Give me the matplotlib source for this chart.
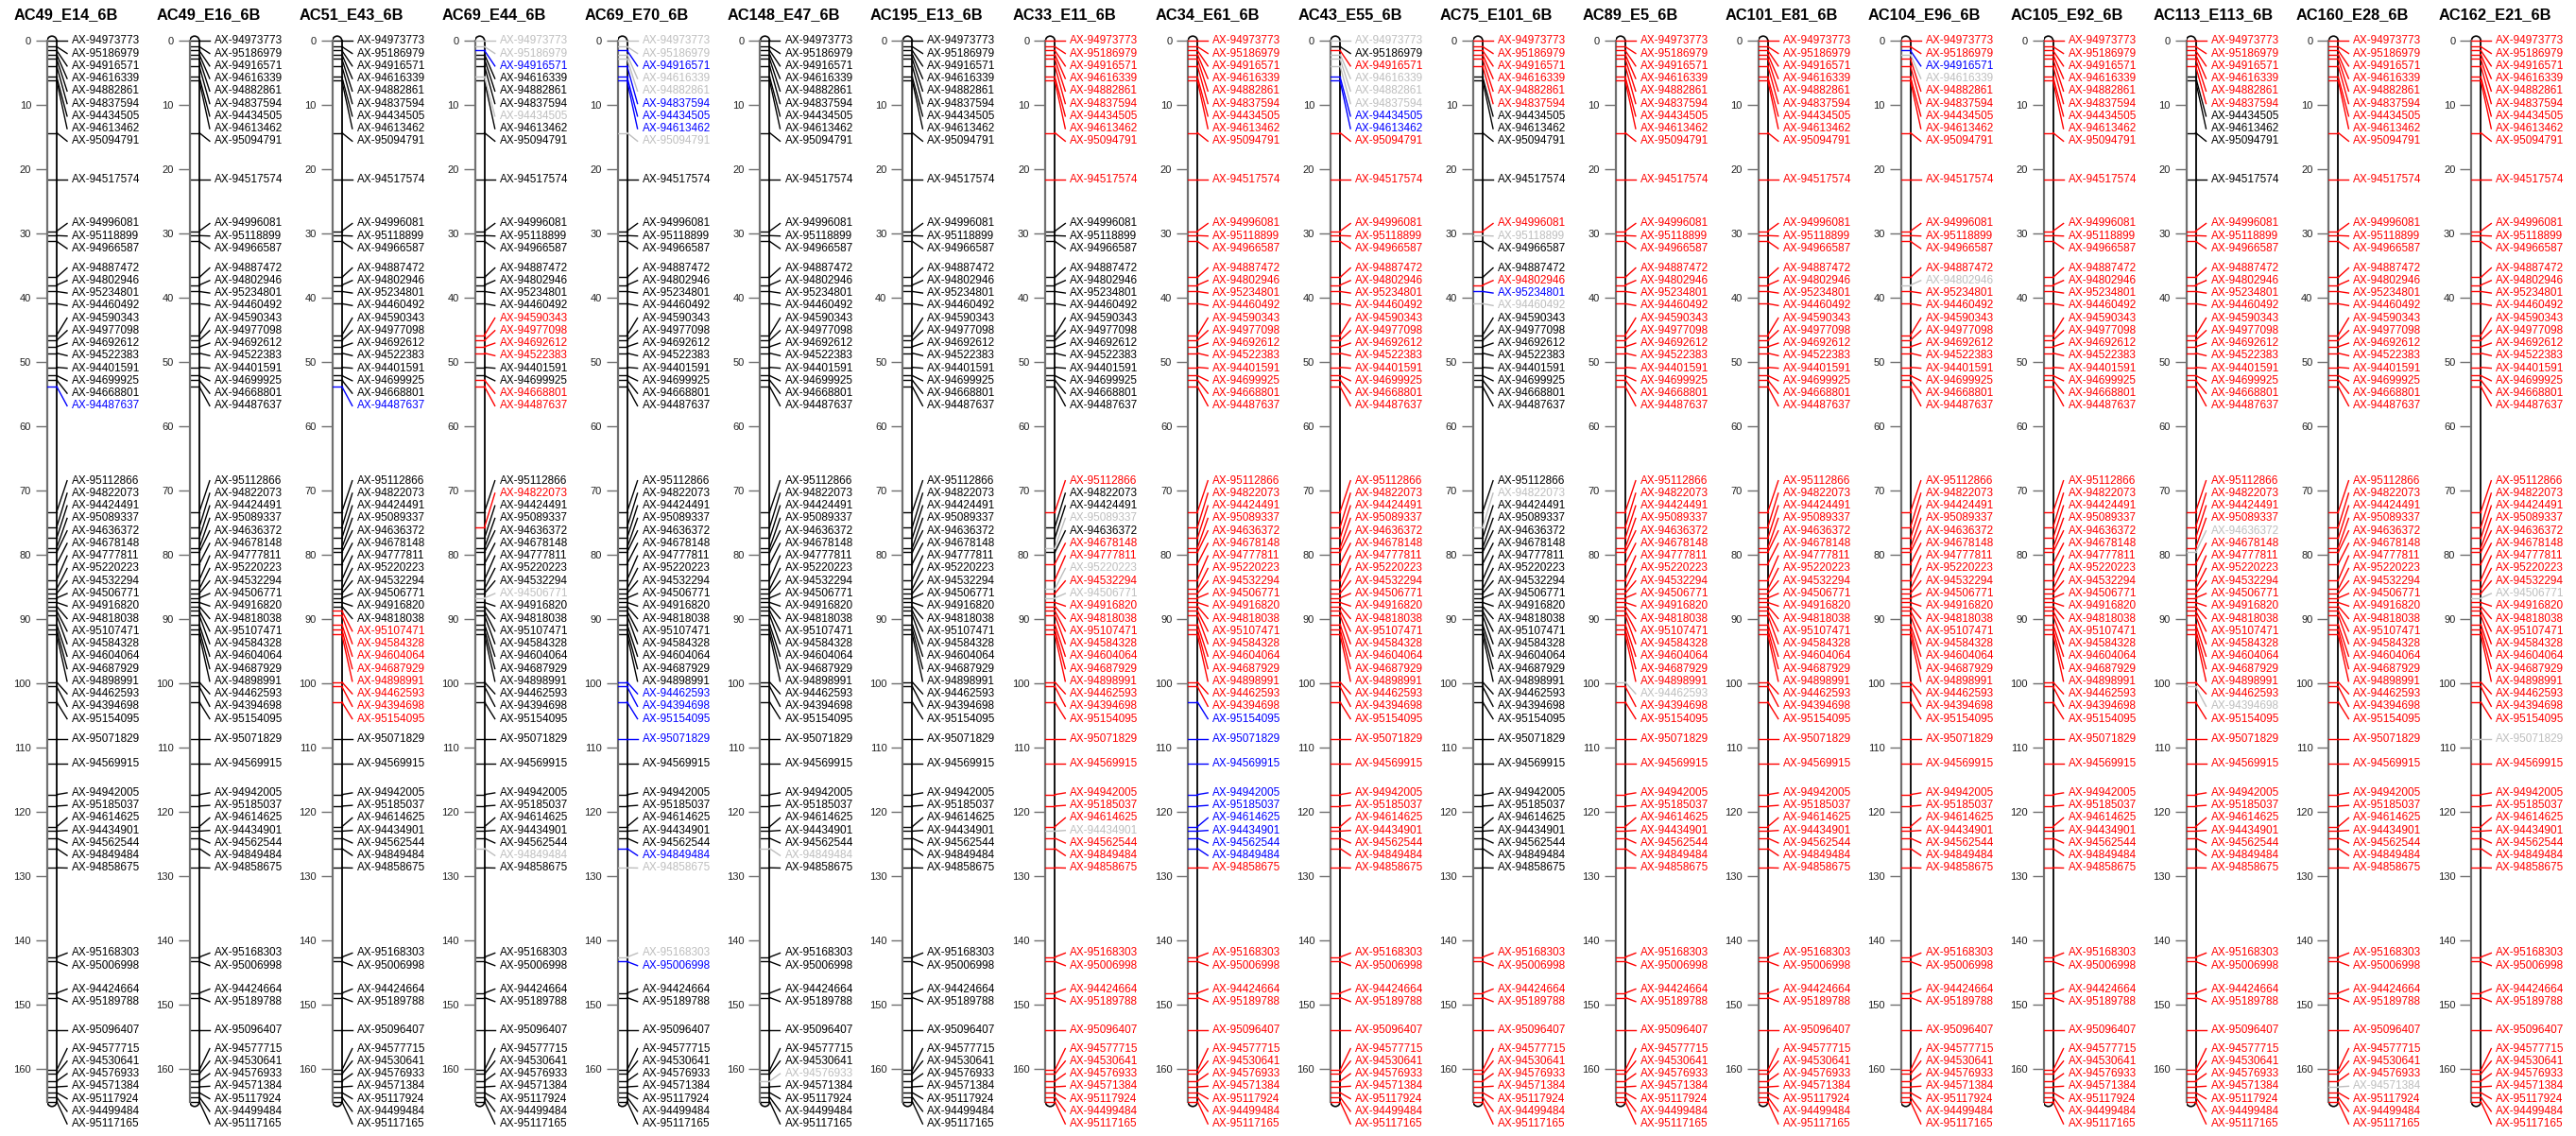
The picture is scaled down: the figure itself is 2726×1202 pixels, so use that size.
import numpy as np
import matplotlib
matplotlib.use("Agg")
import matplotlib.pyplot as plt
from matplotlib.patches import Arc

plt.rcParams['font.family'] = ['Liberation Sans', 'DejaVu Sans']

# marker names and map positions (cM)
markers = ["AX-94973773", "AX-95186979", "AX-94916571", "AX-94616339", "AX-94882861",
           "AX-94837594", "AX-94434505", "AX-94613462", "AX-95094791", "AX-94517574",
           "AX-94996081", "AX-95118899", "AX-94966587", "AX-94887472", "AX-94802946",
           "AX-95234801", "AX-94460492", "AX-94590343", "AX-94977098", "AX-94692612",
           "AX-94522383", "AX-94401591", "AX-94699925", "AX-94668801", "AX-94487637",
           "AX-95112866", "AX-94822073", "AX-94424491", "AX-95089337", "AX-94636372",
           "AX-94678148", "AX-94777811", "AX-95220223", "AX-94532294", "AX-94506771",
           "AX-94916820", "AX-94818038", "AX-95107471", "AX-94584328", "AX-94604064",
           "AX-94687929", "AX-94898991", "AX-94462593", "AX-94394698", "AX-95154095",
           "AX-95071829", "AX-94569915", "AX-94942005", "AX-95185037", "AX-94614625",
           "AX-94434901", "AX-94562544", "AX-94849484", "AX-94858675", "AX-95168303",
           "AX-95006998", "AX-94424664", "AX-95189788", "AX-95096407", "AX-94577715",
           "AX-94530641", "AX-94576933", "AX-94571384", "AX-95117924", "AX-94499484",
           "AX-95117165"]
pos = [0.0, 0.9, 1.5, 2.1, 2.8, 3.9, 5.6, 6.2, 14.3, 21.6,
       29.6, 30.3, 31.2, 36.8, 38.0, 39.0, 40.9, 45.8, 46.6, 47.6,
       48.6, 50.8, 52.1, 52.8, 53.8, 73.3, 75.7, 77.4, 78.9, 79.6,
       81.4, 83.9, 85.3, 86.0, 86.7, 87.4, 88.0, 88.7, 89.4, 90.8,
       91.6, 92.4, 99.8, 100.5, 102.9, 108.6, 112.5, 117.3, 119.1, 122.3,
       123.0, 124.1, 125.7, 128.7, 142.6, 143.3, 148.2, 148.9, 154.0, 160.2,
       160.8, 161.9, 162.8, 163.7, 164.4, 165.1]

panels = ["AC49_E14_6B", "AC49_E16_6B", "AC51_E43_6B", "AC69_E44_6B", "AC69_E70_6B",
          "AC148_E47_6B", "AC195_E13_6B", "AC33_E11_6B", "AC34_E61_6B", "AC43_E55_6B",
          "AC75_E101_6B", "AC89_E5_6B", "AC101_E81_6B", "AC104_E96_6B", "AC105_E92_6B",
          "AC113_E113_6B", "AC160_E28_6B", "AC162_E21_6B"]

# genotype class per marker: k black, r red, b blue, g grey (missing)
geno = [
    "k" * 24 + "b" + "k" * 41,
    "k" * 66,
    "k" * 24 + "b" + "k" * 12 + "r" * 8 + "k" * 21,
    "ggbkkkgkk" + "k" * 8 + "rrrrkkrr" + "kr" + "k" * 7 + "g" + "k" * 17 + "g" + "k" * 13,
    "ggbggbbbgk" + "k" * 32 + "bbbbk" + "k" * 5 + "bggb" + "k" * 10,
    "k" * 52 + "g" + "k" * 8 + "g" + "k" * 4,
    "k" * 66,
    "r" * 10 + "k" * 15 + "rkkgkrrgrg" + "r" * 15 + "g" + "r" * 15,
    "r" * 44 + "b" * 9 + "r" * 13,
    "gkrgggbbr" + "r" * 57,
    "r" * 6 + "kkkk" + "rgkkrbg" + "k" * 8 + "kg" + "k" * 27 + "r" * 12,
    "r" * 42 + "g" + "r" * 23,
    "r" * 66,
    "rrbg" + "r" * 10 + "g" + "r" * 51,
    "r" * 66,
    "r" * 6 + "kkkk" + "r" * 19 + "g" + "r" * 13 + "g" + "r" * 22,
    "r" * 62 + "g" + "r" * 3,
    "r" * 34 + "g" + "r" * 10 + "g" + "r" * 20,
]

palette = {"k": "black", "r": "#FF0000", "b": "#0000FF", "g": "#BEBEBE"}


def spread(p, d, lo):
    # keep labels at least d apart, as close as possible to the markers
    p = np.asarray(p, dtype=float)
    idx = np.arange(len(p)) * d
    blocks = []
    for v in p - idx:
        blocks.append([v, 1])
        while len(blocks) > 1 and blocks[-2][0] / blocks[-2][1] > blocks[-1][0] / blocks[-1][1]:
            s, c = blocks.pop()
            blocks[-1][0] += s
            blocks[-1][1] += c
    z = np.concatenate([[s / c] * c for s, c in blocks])
    return np.maximum(z, lo - 0) + idx


W, H = 2726, 1202
fig = plt.figure(figsize=(W / 100, H / 100), dpi=100)

pxcm = 6.798
top_px, bot_px, zero_px = 30, 1200, 43.3
lab = spread(pos, 1.95, pos[0])
end = pos[-1]

for i, name in enumerate(panels):
    x0 = 50 + i * 150.9
    ax = fig.add_axes([x0 / W, (H - bot_px) / H, 101 / W, (bot_px - top_px) / H])
    ax.set_xlim(0, 101)
    ax.set_ylim((bot_px - zero_px) / pxcm, (top_px - zero_px) / pxcm)

    # chromosome bar
    ax.plot([10, 10], [0, end], color="black", lw=1.3, zorder=2)
    ax.add_patch(Arc((5, 0), 10, 1.5, theta1=180, theta2=360, color="black", lw=1.2))
    ax.add_patch(Arc((5, end), 10, 1.5, theta1=0, theta2=180, color="black", lw=1.2))

    for j, m in enumerate(markers):
        c = palette[geno[i][j]]
        z = 2 if geno[i][j] == "k" else 3
        ax.plot([0, 10], [pos[j], pos[j]], color=c, lw=1.0, zorder=z)
        ax.plot([10, 21], [pos[j], lab[j]], color=c, lw=1.0, zorder=z)
        ax.text(26, lab[j], m, color=c, fontsize=8.5, va="center", ha="left", clip_on=False)

    for s in ["top", "right", "bottom"]:
        ax.spines[s].set_visible(False)
    ax.spines["left"].set_color("#707070")
    ax.spines["left"].set_linewidth(1.6)
    ax.spines["left"].set_bounds(0, end)
    ax.set_xticks([])
    ax.set_yticks(range(0, 161, 10))
    ax.tick_params(axis="y", length=8.6, width=1.0, color="#707070", pad=3.6,
                   labelsize=8, labelcolor="#222222")
    ax.patch.set_alpha(0)

    fig.text((x0 - 35) / W, 1 - 16 / H, name, fontsize=11.8, fontweight="bold",
             ha="left", va="center")

fig.savefig("out.png", dpi=100)
